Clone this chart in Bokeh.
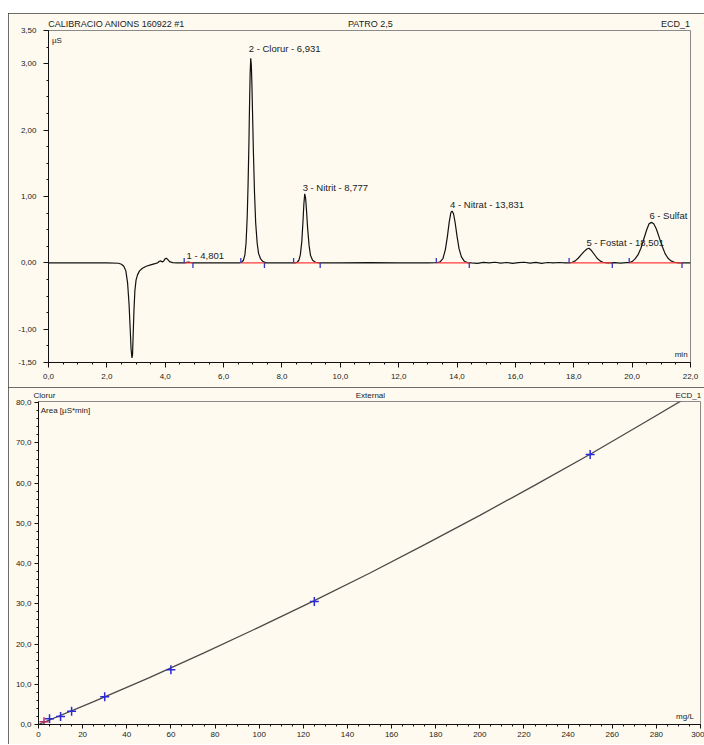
from bokeh.plotting import figure
from bokeh.models import ColumnDataSource, FixedTicker, Label, Spacer, LinearAxis
from bokeh.layouts import column, row
from bokeh.embed import file_html
from bokeh.resources import INLINE
from bokeh.core.properties import value

# ---------------- chromatogram (top) ----------------
trace_time = [0.00, 1.00, 2.00, 2.40, 2.50, 2.58, 2.65, 2.71, 2.76, 2.80, 2.83, 2.86, 2.88, 2.90,
              2.93, 2.96, 3.00, 3.05, 3.12, 3.22, 3.35, 3.50, 3.65, 3.75, 3.80, 3.85, 3.90, 3.95,
              4.00, 4.04, 4.09, 4.15, 4.25, 4.40, 4.65, 4.75, 4.80, 4.87, 4.95, 5.50, 6.00,
              6.55, 6.62, 6.68, 6.73, 6.77, 6.81, 6.84, 6.87, 6.89, 6.91, 6.93, 6.95, 6.97, 6.99,
              7.02, 7.06, 7.10, 7.15, 7.20, 7.27, 7.35, 7.45, 8.00,
              8.45, 8.52, 8.58, 8.63, 8.68, 8.72, 8.75, 8.78, 8.81, 8.84, 8.88, 8.93, 8.98, 9.05,
              9.15, 9.30, 10.00, 11.00, 12.00, 13.00,
              13.30, 13.42, 13.52, 13.60, 13.67, 13.73, 13.79, 13.83, 13.88, 13.94, 14.00, 14.07,
              14.15, 14.24, 14.35, 14.50, 14.70, 14.90, 15.10, 15.30, 15.50, 15.70, 15.90, 16.10,
              16.30, 16.50, 16.70, 16.90, 17.10, 17.30, 17.50, 17.70, 17.85,
              17.95, 18.05, 18.15, 18.25, 18.35, 18.45, 18.52, 18.60, 18.70, 18.80, 18.90, 19.00,
              19.15, 19.40, 19.60, 19.80,
              19.90, 20.00, 20.10, 20.20, 20.30, 20.40, 20.50, 20.58, 20.66, 20.74, 20.83, 20.93,
              21.03, 21.13, 21.23, 21.33, 21.45, 21.60, 22.00]
trace_signal = [0.000, 0.000, 0.000, -0.005, -0.02, -0.05, -0.12, -0.30, -0.62, -1.00, -1.30, -1.43, -1.38, -1.10,
                -0.70, -0.42, -0.26, -0.18, -0.12, -0.08, -0.05, -0.03, -0.012, 0.005, 0.025, 0.03, 0.015, 0.03,
                0.065, 0.07, 0.05, 0.02, 0.005, 0.000, 0.000, 0.008, 0.012, 0.006, 0.000, 0.002, 0.000,
                0.000, 0.01, 0.04, 0.12, 0.30, 0.70, 1.20, 1.85, 2.40, 2.85, 3.08, 2.98, 2.70, 2.30,
                1.70, 1.05, 0.60, 0.30, 0.14, 0.06, 0.02, 0.00, 0.00,
                0.00, 0.01, 0.04, 0.12, 0.32, 0.62, 0.88, 1.04, 0.98, 0.80, 0.52, 0.26, 0.11, 0.04,
                0.01, 0.00, 0.00, 0.003, 0.00, 0.00,
                0.002, 0.015, 0.07, 0.20, 0.40, 0.61, 0.76, 0.78, 0.74, 0.59, 0.40, 0.21,
                0.09, 0.03, 0.005, 0.000, -0.006, 0.008, 0.000, 0.010, -0.004, 0.006, -0.006, 0.004,
                0.010, -0.004, 0.008, -0.006, 0.006, 0.000, 0.006, 0.000, 0.000,
                0.01, 0.03, 0.07, 0.12, 0.17, 0.21, 0.22, 0.19, 0.13, 0.07, 0.03, 0.01,
                0.00, 0.005, -0.003, 0.003,
                0.005, 0.02, 0.06, 0.12, 0.22, 0.36, 0.50, 0.59, 0.61, 0.59, 0.51, 0.38,
                0.25, 0.14, 0.07, 0.03, 0.01, 0.00, 0.00]

peak_rt = [4.801, 6.931, 8.777, 13.831, 18.501, 20.66]
peak_label = ["1 - 4,801", "2 - Clorur - 6,931", "3 - Nitrit - 8,777",
              "4 - Nitrat - 13,831", "5 - Fostat - 18,501", "6 - Sulfat"]
label_level = [0.03, 3.14, 1.06, 0.80, 0.23, 0.63]
base_start = [4.65, 6.59, 8.40, 13.29, 17.84, 19.90]
base_end = [4.95, 7.40, 9.31, 14.42, 19.32, 21.71]

top_header = ["CALIBRACIO ANIONS 160922 #1", "PATRO 2,5", "ECD_1"]
top_header_at = [2.33, 11.03, 21.49]
top_x_ticks = [0, 2, 4, 6, 8, 10, 12, 14, 16, 18, 20, 22]
top_x_labels = ["0,0", "2,0", "4,0", "6,0", "8,0", "10,0", "12,0", "14,0", "16,0", "18,0", "20,0", "22,0"]
top_y_ticks = [-1.5, -1.0, 0.0, 1.0, 2.0, 3.0, 3.5]
top_y_labels = ["-1,50", "-1,00", "0,00", "1,00", "2,00", "3,00", "3,50"]

# ---------------- calibration (bottom) ----------------
cal_conc = [2.5, 5, 10, 15, 30, 60, 125, 250]
cal_area = [0.7, 1.4, 2.0, 3.3, 6.9, 13.6, 30.6, 67.1]
curve_conc = [0, 25, 50, 75, 100, 125, 150, 175, 200, 225, 250, 275, 300]
curve_area = [0.0, 5.7, 11.6, 17.8, 24.2, 30.8, 37.6, 44.7, 52.0, 59.5, 67.2, 75.2, 83.3]

bot_header = ["Clorur", "External", "ECD_1"]
bot_header_at = [2.7, 150.4, 294.5]
bot_x_ticks = list(range(0, 301, 20))
bot_x_labels = [str(v) for v in bot_x_ticks]
bot_y_ticks = [0, 10, 20, 30, 40, 50, 60, 70, 80]
bot_y_labels = ["0,0", "10,0", "20,0", "30,0", "40,0", "50,0", "60,0", "70,0", "80,0"]

CREAM = "#fefaef"
FONT = "Liberation Sans"
TXT = "#222222"


def style_axes(p, xt, xl, yt, yl, xminor, yminor, tick_font, x_standoff, y_standoff):
    p.xaxis.ticker = FixedTicker(ticks=xt, minor_ticks=xminor)
    p.yaxis.ticker = FixedTicker(ticks=yt, minor_ticks=yminor)
    p.xaxis.major_label_overrides = {t: l for t, l in zip(xt, xl)}
    p.yaxis.major_label_overrides = {t: l for t, l in zip(yt, yl)}
    for ax in (p.xaxis, p.yaxis):
        ax.axis_line_color = "#111111"
        ax.major_tick_line_color = "#111111"
        ax.minor_tick_line_color = "#111111"
        ax.major_tick_in = 0
        ax.major_tick_out = 5
        ax.minor_tick_in = 0
        ax.minor_tick_out = 2
        ax.major_label_text_font = FONT
        ax.major_label_text_font_size = tick_font
        ax.major_label_text_color = TXT
    p.xaxis.major_label_standoff = x_standoff
    p.yaxis.major_label_standoff = y_standoff
    p.grid.visible = False
    p.background_fill_color = CREAM
    p.border_fill_color = CREAM
    p.outline_line_color = "#8a8a8a"
    p.outline_line_width = 1


def header_axis(ticks, texts, size):
    ax = LinearAxis(ticker=FixedTicker(ticks=ticks, minor_ticks=[]),
                    major_label_overrides={t: s for t, s in zip(ticks, texts)})
    ax.axis_line_color = None
    ax.major_tick_line_color = None
    ax.minor_tick_line_color = None
    ax.major_tick_out = 0
    ax.major_tick_in = 0
    ax.major_label_standoff = 2
    ax.major_label_text_font = FONT
    ax.major_label_text_font_size = size
    ax.major_label_text_color = TXT
    return ax


# ---------- top figure ----------
p1 = figure(width=696, height=374, x_range=(0, 22.0), y_range=(-1.5, 3.5),
            output_backend="svg", toolbar_location=None,
            min_border_left=40, min_border_right=14, min_border_top=17, min_border_bottom=25)
style_axes(p1, top_x_ticks, top_x_labels, top_y_ticks, top_y_labels,
           [i * 0.5 for i in range(0, 45)], [-1.5 + i * 0.25 for i in range(0, 21)],
           "8px", 6, 7)
p1.add_layout(header_axis(top_header_at, top_header, "9px"), "above")

p1.line(trace_time, trace_signal, line_color="#111111", line_width=1.2)

zeros = [0.0] * len(base_start)
p1.segment(x0=base_start, y0=zeros, x1=base_end, y1=zeros, line_color="#ff3b3b", line_width=1.3)
p1.segment(x0=base_start, y0=zeros, x1=base_start, y1=[z + 0.075 for z in zeros],
           line_color="#3535c8", line_width=1.3)
p1.segment(x0=base_end, y0=zeros, x1=base_end, y1=[z - 0.075 for z in zeros],
           line_color="#3535c8", line_width=1.3)

lab_src = ColumnDataSource(dict(x=peak_rt, y=label_level, t=peak_label))
p1.text(x="x", y="y", text="t", source=lab_src, text_font=value(FONT),
        text_font_size=value("9.5px"), text_color=TXT, text_baseline="bottom",
        text_align="left", x_offset=-2)

p1.add_layout(Label(x=0.12, y=3.42, text="µS", text_font=FONT,
                    text_font_size="8px", text_color=TXT, text_baseline="top", text_align="left"))
p1.add_layout(Label(x=21.9, y=-1.45, text="min", text_font=FONT,
                    text_font_size="8px", text_color=TXT, text_baseline="bottom", text_align="right"))
p1.styles = {"outline": "2px solid #3e3e3e", "outline-offset": "-2px"}

# ---------- bottom figure ----------
p2 = figure(width=696, height=357, x_range=(0, 300), y_range=(0, 80.3),
            output_backend="svg", toolbar_location=None,
            min_border_left=30, min_border_right=4, min_border_top=12, min_border_bottom=20)
style_axes(p2, bot_x_ticks, bot_x_labels, bot_y_ticks, bot_y_labels,
           list(range(0, 301, 5)), list(range(0, 81, 2)), "8px", 3, 3)
p2.xaxis.major_tick_out = 4
p2.yaxis.major_tick_out = 4
p2.add_layout(header_axis(bot_header_at, bot_header, "8px"), "above")

p2.line(curve_conc, curve_area, line_color="#4a4a4a", line_width=1.3)
p2.scatter(cal_conc[1:], cal_area[1:], marker="cross", size=9, line_color="#2a2ad8", line_width=1.5)
p2.scatter(cal_conc[:1], cal_area[:1], marker="cross", size=9, line_color="#b0306a", line_width=1.5)

p2.add_layout(Label(x=1.0, y=79.3, text="Area  [µS*min]", text_font=FONT,
                    text_font_size="8px", text_color=TXT, text_baseline="top", text_align="left"))
p2.add_layout(Label(x=297.0, y=0.8, text="mg/L", text_font=FONT,
                    text_font_size="8px", text_color=TXT, text_baseline="bottom", text_align="right"))
p2.styles = {"outline": "2px solid #3e3e3e", "outline-offset": "-2px"}

top_block = column(Spacer(width=696, height=13), p1, spacing=0)
bottom_block = row(p2, spacing=0)
layout = row(Spacer(width=8, height=744),
             column(top_block, bottom_block, spacing=0),
             spacing=0)

open("out.html", "w").write(file_html(layout, INLINE))
